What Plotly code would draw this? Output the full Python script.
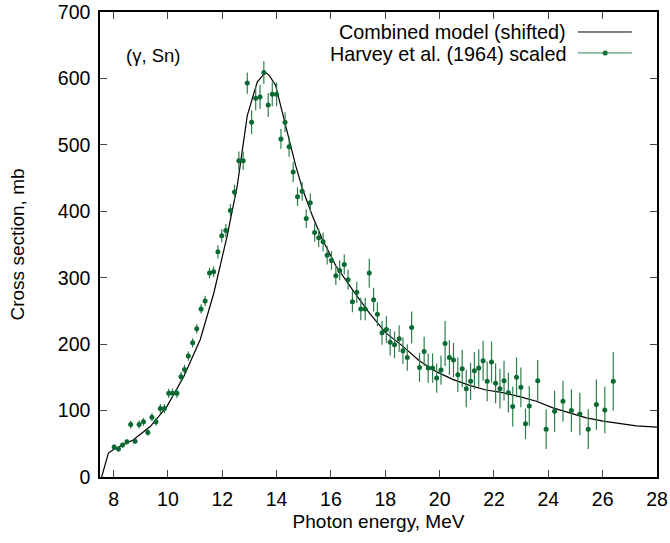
import plotly.graph_objects as go

# Harvey et al. (1964) scaled data
energy = [8.02, 8.18, 8.33, 8.49, 8.63, 8.79, 8.94, 9.10, 9.26, 9.41, 9.56, 9.72, 9.87,
          10.03, 10.17, 10.33, 10.48, 10.61, 10.75, 10.91, 11.06, 11.22, 11.37, 11.53, 11.68,
          11.84, 11.98, 12.13, 12.30, 12.45, 12.61, 12.77, 12.92, 13.08, 13.23, 13.39, 13.53,
          13.69, 13.84, 14.00, 14.16, 14.31, 14.46, 14.61, 14.77, 14.94, 15.09, 15.24, 15.40,
          15.55, 15.71, 15.86, 16.02, 16.18, 16.32, 16.49, 16.63, 16.79, 16.95, 17.10, 17.26,
          17.41, 17.57, 17.71, 17.88, 18.04, 18.18, 18.34, 18.51, 18.65, 18.81, 18.97, 19.26,
          19.43, 19.58, 19.74, 19.89, 20.05, 20.20, 20.36, 20.51, 20.67, 20.83, 20.98, 21.14,
          21.28, 21.44, 21.60, 21.75, 21.91, 22.06, 22.22, 22.37, 22.53, 22.69, 22.83, 22.99,
          23.16, 23.30, 23.61, 23.92, 24.23, 24.54, 24.85, 25.16, 25.47, 25.77, 26.08, 26.39]
sigma = [45, 42, 48, 53, 79, 54, 79, 83, 67, 90, 83, 103, 103,
         126, 126, 126, 151, 162, 182, 202, 223, 253, 265, 307, 309,
         339, 363, 371, 401, 429, 476, 476, 593, 534, 570, 572, 609,
         560, 576, 576, 509, 534, 497, 459, 422, 430, 389, 413, 368,
         360, 354, 334, 326, 303, 311, 320, 297, 264, 278, 253, 253,
         307, 267, 245, 217, 222, 203, 199, 208, 190, 180, 225, 165,
         189, 164, 164, 149, 161, 201, 180, 176, 154, 163, 133, 144,
         160, 164, 175, 144, 173, 141, 133, 145, 127, 106, 150, 135,
         80, 107, 145, 72, 99, 114, 100, 95, 72, 109, 101, 144]
sigma_err = [4, 4, 4, 4, 6, 4, 6, 6, 5, 6, 6, 7, 7,
             7, 7, 7, 7, 7, 7, 7, 7, 7, 8, 8, 8,
             10, 10, 10, 10, 11, 14, 14, 16, 18, 18, 18, 17,
             18, 18, 18, 15, 15, 15, 15, 14, 14, 14, 14, 14,
             14, 14, 14, 14, 14, 15, 15, 15, 16, 16, 17, 17,
             22, 18, 18, 18, 20, 20, 20, 20, 20, 20, 24, 22,
             22, 22, 22, 22, 22, 34, 26, 26, 26, 28, 28, 28,
             28, 28, 30, 30, 31, 30, 30, 30, 30, 30, 30, 30,
             23, 30, 31, 30, 31, 31, 32, 32, 30, 38, 35, 44]

# Combined model (shifted)
model_energy = [7.56, 7.81, 7.99, 8.73, 9.35, 9.96, 10.58, 11.19, 11.69, 12.18, 12.55, 12.92,
                13.29, 13.59, 13.72, 13.96, 14.21, 14.45, 14.70, 14.95, 15.32, 15.68, 16.18,
                16.79, 17.41, 18.02, 18.64, 19.25, 19.86, 20.48, 21.10, 21.71, 22.33, 22.94,
                23.56, 24.17, 24.79, 25.40, 26.02, 26.63, 27.24, 28.0]
model_sigma = [0, 36, 41, 56, 76, 106, 151, 207, 277, 363, 438, 544,
               595, 609, 605, 590, 549, 509, 469, 434, 393, 358, 318,
               282, 247, 217, 197, 175, 159, 147, 138, 131, 127, 121,
               114, 104, 96, 89, 84, 80, 77, 75]

x_ticks = [8, 10, 12, 14, 16, 18, 20, 22, 24, 26, 28]
y_ticks = [0, 100, 200, 300, 400, 500, 600, 700]

GREEN = "#0a6a32"
BAR = "#2f7f4c"
FONT = "Liberation Sans, Arial, sans-serif"
FS = 19.5

fig = go.Figure()
fig.add_trace(go.Scatter(x=model_energy, y=model_sigma, mode="lines",
                         line=dict(color="black", width=1.2),
                         name="Combined model (shifted)", showlegend=False))
fig.add_trace(go.Scatter(x=energy, y=sigma, mode="markers",
                         marker=dict(color=GREEN, size=5),
                         error_y=dict(type="data", array=sigma_err, color=BAR,
                                      thickness=1.2, width=0),
                         name="Harvey et al. (1964) scaled", showlegend=False))

# gnuplot-style key: text right-aligned, sample on the right
fig.add_annotation(x=0.836, y=0.9344, xref="paper", yref="paper", xanchor="right", yanchor="bottom",
                   text="Combined model (shifted)", showarrow=False, borderpad=0, borderwidth=0,
                   font=dict(size=19.8, family=FONT))
fig.add_annotation(x=0.836, y=0.9344, xref="paper", yref="paper", xanchor="right", yanchor="top",
                   text="Harvey et al. (1964) scaled", showarrow=False, borderpad=0, borderwidth=0,
                   font=dict(size=19.8, family=FONT))
fig.add_shape(type="line", xref="paper", yref="paper", x0=0.858, x1=0.955, y0=0.957, y1=0.957,
              line=dict(color="black", width=1))
fig.add_shape(type="line", xref="paper", yref="paper", x0=0.858, x1=0.955, y0=0.912, y1=0.912,
              line=dict(color=BAR, width=1))
fig.add_trace(go.Scatter(x=[0.907], y=[0.912], xaxis="x2", yaxis="y2", mode="markers",
                         marker=dict(color=GREEN, size=5), showlegend=False, hoverinfo="skip"))

fig.add_annotation(x=8.4, y=635, xref="x", yref="y", xanchor="left", yanchor="middle",
                   text="(γ, Sn)", showarrow=False, font=dict(size=18.5, family=FONT))

fig.update_layout(
    width=670, height=543,
    margin=dict(l=100, r=13, t=12, b=66),
    plot_bgcolor="white", paper_bgcolor="white",
    font=dict(family=FONT, size=FS, color="black"),
    showlegend=False,
    xaxis=dict(range=[7.5, 28], tickvals=x_ticks, ticks="inside", ticklen=7, tickwidth=1.2,
               showline=True, linecolor="black", linewidth=1.5, mirror="ticks", showgrid=False,
               zeroline=False, automargin=False, ticklabelstandoff=4, ticklabeloverflow="allow",
               title=dict(text="Photon energy, MeV", standoff=6, font=dict(size=19))),
    yaxis=dict(range=[0, 700], tickvals=y_ticks, ticks="inside", ticklen=7, tickwidth=1.2,
               showline=True, linecolor="black", linewidth=1.5, mirror="ticks", showgrid=False,
               zeroline=False, automargin=False, ticklabelstandoff=4, ticklabeloverflow="allow",
               title=dict(text="Cross section, mb", standoff=28, font=dict(size=19))),
    xaxis2=dict(range=[0, 1], overlaying="x", visible=False),
    yaxis2=dict(range=[0, 1], overlaying="y", visible=False),
)

# remove the default 8px body margin so the figure sits at the page origin
fig.write_html("out.html", config={"displayModeBar": False},
               post_script="document.body.style.margin='0';")
